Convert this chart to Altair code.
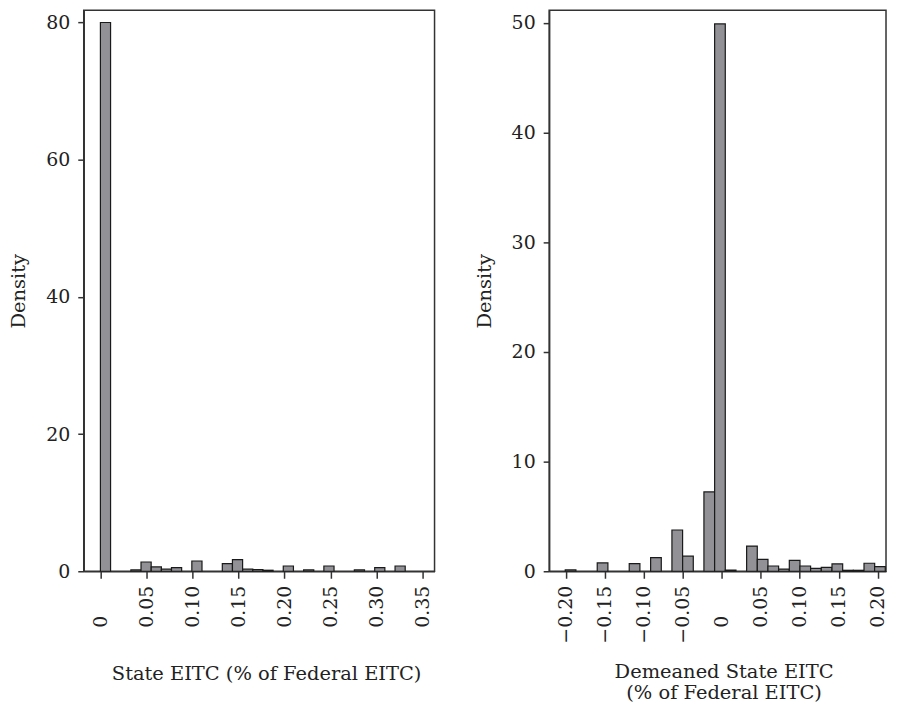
import altair as alt
import pandas as pd

# ---------------- data ----------------
# Left panel: State EITC (% of Federal EITC); 30 bins of equal width from 0
left_bin_width = 0.011033
left_bin_start = [0.0, 0.0331, 0.0441, 0.0552, 0.0662, 0.0772, 0.0993, 0.1324,
                  0.1434, 0.1545, 0.1655, 0.1765, 0.1986, 0.2207, 0.2427,
                  0.2758, 0.2979, 0.3200]
left_density = [80.0, 0.19, 1.35, 0.63, 0.30, 0.53, 1.50, 1.11,
                1.69, 0.30, 0.25, 0.15, 0.77, 0.20, 0.77,
                0.20, 0.53, 0.77]

# Right panel: Demeaned State EITC; 30 bins of equal width from -0.2005
right_bin_width = 0.01367
right_bin_start = [-0.2005, -0.1595, -0.1185, -0.0911, -0.0638, -0.0501, -0.0228,
                   -0.0091, 0.0046, 0.0319, 0.0456, 0.0592, 0.0729, 0.0866,
                   0.1002, 0.1139, 0.1276, 0.1413, 0.1549, 0.1686, 0.1823, 0.1959]
right_density = [0.12, 0.76, 0.70, 1.24, 3.76, 1.38, 7.23,
                 49.9, 0.10, 2.30, 1.09, 0.48, 0.20, 1.00,
                 0.48, 0.27, 0.36, 0.67, 0.09, 0.09, 0.73, 0.42]

left_xticks = [0, 0.05, 0.10, 0.15, 0.20, 0.25, 0.30, 0.35]
right_xticks = [-0.20, -0.15, -0.10, -0.05, 0, 0.05, 0.10, 0.15, 0.20]
left_yticks = [0, 20, 40, 60, 80]
right_yticks = [0, 10, 20, 30, 40, 50]

left_xtitle = "State EITC (% of Federal EITC)"
right_xtitle = ["Demeaned State EITC", "(% of Federal EITC)"]
ytitle = "Density"

FONT = "DejaVu Serif"
FS = 19
INK = "#222222"
LINE = "#333333"
BAR_FILL = "#919196"


def panel(starts, dens, w, xdomain, xticks, ydomain, yticks, xtitle,
          width, height, title_x, title_y):
    df = pd.DataFrame({
        "lo": starts,
        "hi": [s + w for s in starts],
        "d": dens,
        "base": [0.0] * len(starts),
    })
    return alt.Chart(df).mark_rect(
        fill=BAR_FILL, stroke="#1a1a1a", strokeWidth=1.2
    ).encode(
        x=alt.X(
            "lo:Q",
            scale=alt.Scale(domain=xdomain, nice=False, zero=False),
            axis=alt.Axis(
                values=xticks,
                labelExpr="abs(datum.value) < 1e-9 ? '0' : format(datum.value, '.2f')",
                labelAngle=-90,
                labelAlign="right",
                labelBaseline="middle",
                labelPadding={"condition": {"test": "abs(datum.value) < 1e-9", "value": 37},
                              "value": 7},
                labelOverlap=False,
                labelFlush=False,
                labelBound=False,
                tickSize=7,
                grid=False,
                title=xtitle,
                titleX=title_x,
                titleY=title_y,
                titleAlign="center",
                titleBaseline="alphabetic",
                titleLineHeight=21,
            ),
        ),
        x2="hi:Q",
        y=alt.Y(
            "d:Q",
            scale=alt.Scale(domain=ydomain, nice=False),
            axis=alt.Axis(
                values=yticks,
                labelOverlap=False,
                labelFlush=False,
                labelBound=False,
                labelPadding=8,
                tickSize=6,
                grid=False,
                title=ytitle,
                titlePadding=17,
            ),
        ),
        y2="base:Q",
    ).properties(width=width, height=height)


left = panel(left_bin_start, left_density, left_bin_width,
             [-0.0181, 0.3629], left_xticks, [0, 81.8], left_yticks,
             left_xtitle, 352, 563, 183, 109)
right = panel(right_bin_start, right_density, right_bin_width,
              [-0.2211, 0.2105], right_xticks, [0, 51.15], right_yticks,
              right_xtitle, 338, 563, 175, 107)

chart = alt.hconcat(left, right, spacing=38).configure(
    padding={"left": 0, "top": 0, "right": 0, "bottom": 0},
    background="white",
).configure_view(
    stroke=LINE, strokeWidth=1.5
).configure_axis(
    domainColor=LINE, domainWidth=1.5,
    tickColor=LINE, tickWidth=1.5,
    labelColor=INK, labelFont=FONT, labelFontSize=FS,
    titleColor=INK, titleFont=FONT, titleFontSize=19.5, titleFontWeight="normal",
)

chart.save("out.html", embed_options={"renderer": "svg", "actions": False})
